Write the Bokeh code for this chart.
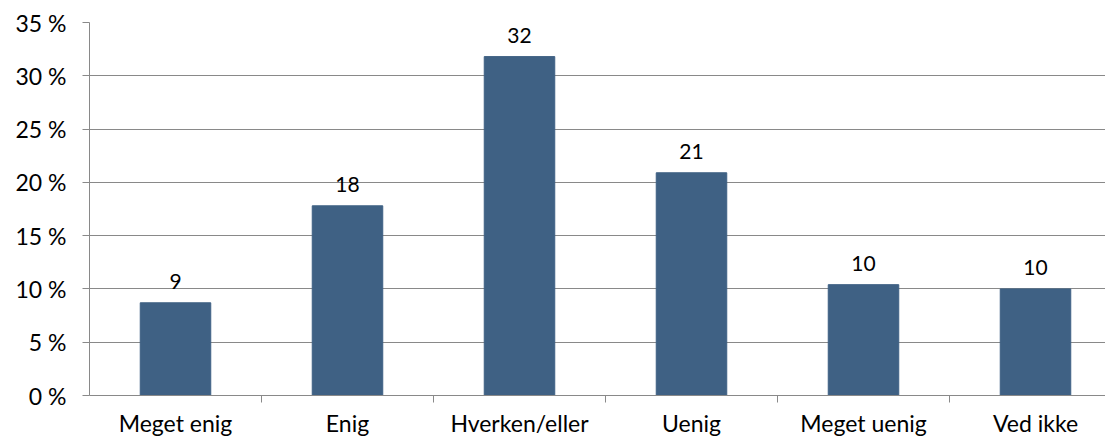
from bokeh.plotting import figure
from bokeh.models import ColumnDataSource, FixedTicker, Range1d
from bokeh.core.properties import value
from bokeh.embed import file_html
from bokeh.resources import INLINE

categories = ["Meget enig", "Enig", "Hverken/eller", "Uenig", "Meget uenig", "Ved ikke"]
values = [8.7, 17.8, 31.8, 20.9, 10.4, 10.0]
labels = ["9", "18", "32", "21", "10", "10"]
y_ticks = [0, 5, 10, 15, 20, 25, 30, 35]

FONT = "Lato"
GREY = "#898989"
BAR = "#3F6184"

xs = list(range(len(categories)))
src = ColumnDataSource(dict(x=xs, top=values, lab=labels))

p = figure(width=1105, height=439, output_backend="svg", toolbar_location=None,
           x_range=Range1d(-0.5, 5.407), y_range=Range1d(0, 35),
           min_border_left=89, min_border_top=22, min_border_bottom=43, min_border_right=0)
p.outline_line_color = None

p.vbar(x="x", top="top", width=0.41, source=src, color=BAR)
p.text(x="x", y="top", text="lab", source=src, text_align="center", text_baseline="alphabetic",
       y_offset=-21, text_font=value(FONT), text_font_size="21px", text_color="#000000")

# x axis
p.xaxis.ticker = FixedTicker(ticks=xs, minor_ticks=[i + 0.5 for i in xs[:-1]])
p.xaxis.major_label_overrides = {i: c for i, c in enumerate(categories)}
p.xaxis.major_tick_out = 0
p.xaxis.major_tick_in = 0
p.xaxis.minor_tick_out = 7
p.xaxis.minor_tick_in = 0
p.xaxis.minor_tick_line_color = GREY
p.xaxis.axis_line_color = GREY
p.xaxis.major_label_text_font = FONT
p.xaxis.major_label_text_font_size = "23px"
p.xaxis.major_label_text_color = "#000000"
p.xaxis.major_label_standoff = 6
p.xgrid.grid_line_color = None

# y axis
p.yaxis.ticker = FixedTicker(ticks=y_ticks, minor_ticks=[])
p.yaxis.major_label_overrides = {t: f"{t} %" for t in y_ticks}
p.yaxis.major_tick_out = 7
p.yaxis.major_tick_in = 0
p.yaxis.major_tick_line_color = GREY
p.yaxis.axis_line_color = GREY
p.yaxis.major_label_text_font = FONT
p.yaxis.major_label_text_font_size = "23px"
p.yaxis.major_label_text_color = "#000000"
p.yaxis.major_label_standoff = 16
p.ygrid.grid_line_color = GREY
p.ygrid.grid_line_width = 1

open("out.html", "w").write(file_html(p, INLINE))
